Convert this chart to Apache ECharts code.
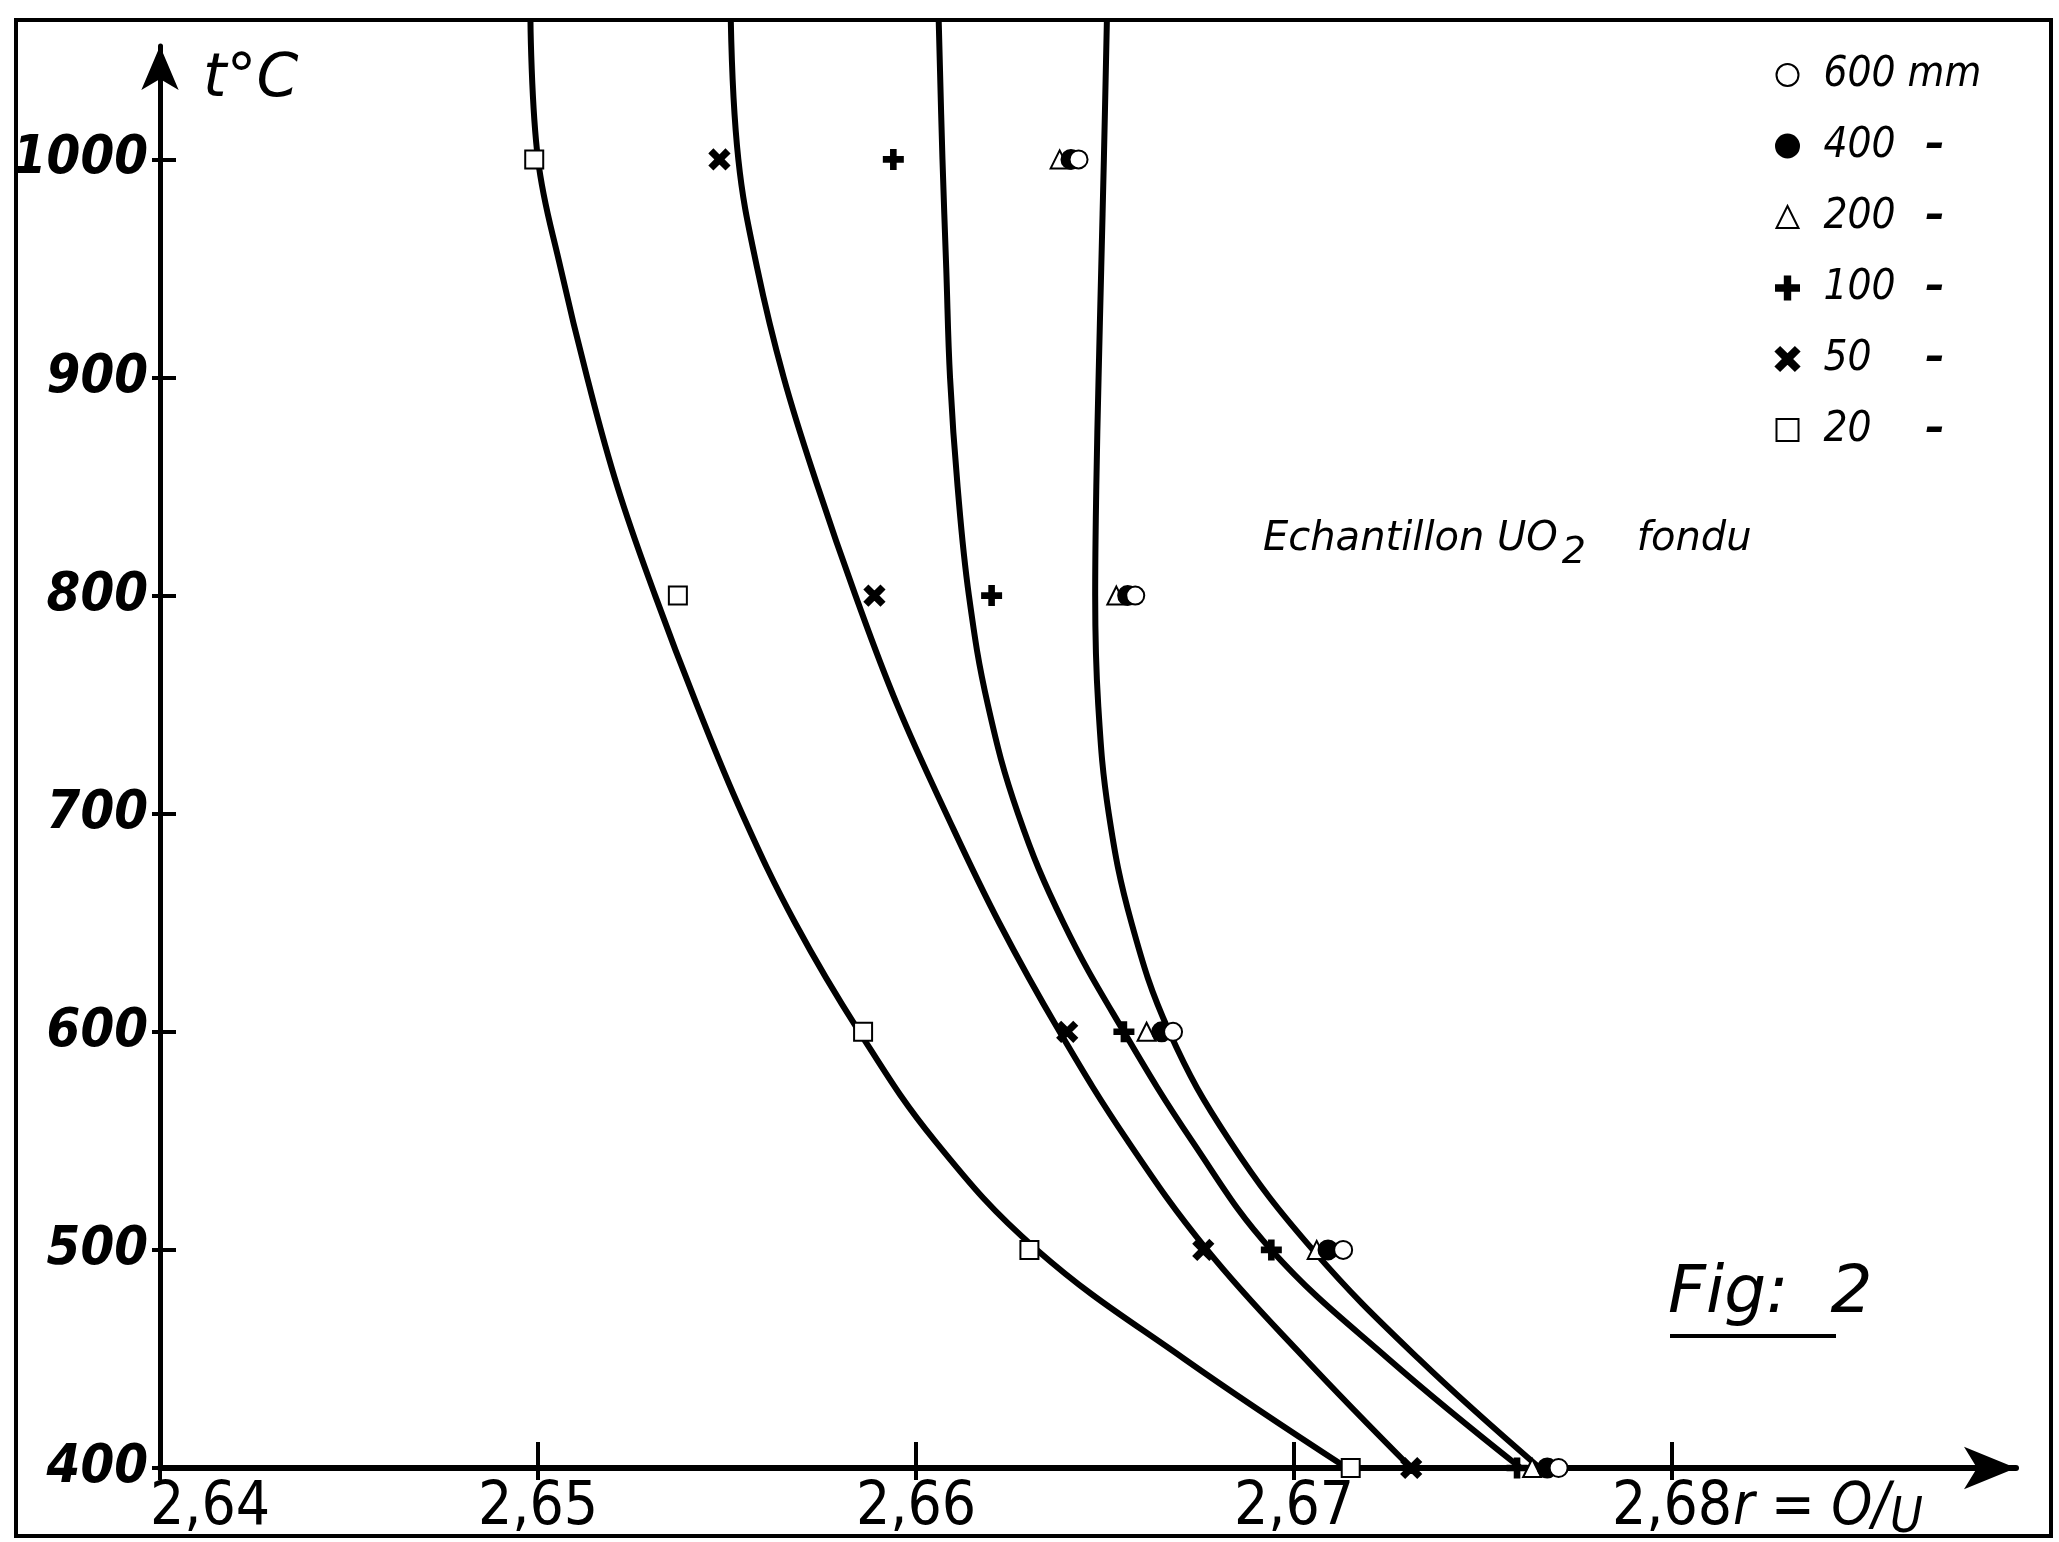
<!DOCTYPE html>
<html><head><meta charset="utf-8">
<script src="https://cdn.jsdelivr.net/npm/echarts@6/dist/echarts.min.js"></script>
<style>html,body{margin:0;padding:0;background:#fff}#c{width:2059px;height:1542px}</style>
</head><body><div id="c"></div>
<script>
// ---- data ----
const tempLevels = [1000, 800, 600, 500, 400];
const r600 = [2.6643, 2.6658, 2.6668, 2.6713, 2.6770];
const r400 = [2.6641, 2.6656, 2.6665, 2.6709, 2.6767];
const r200 = [2.6638, 2.6653, 2.6661, 2.6706, 2.6763];
const r100 = [2.6594, 2.6620, 2.6655, 2.6694, 2.6759];
const r50  = [2.6548, 2.6589, 2.6640, 2.6676, 2.6731];
const r20  = [2.6499, 2.6537, 2.6586, 2.6630, 2.6715];

// drawn curves: temperature levels along each curve and r read at each level
const curveT   = [1064, 1000, 950, 900, 850, 800, 750, 700, 650, 600, 550, 500, 450, 400];
const curve20  = [2.6498, 2.6500, 2.6506, 2.6513, 2.6521, 2.6531, 2.6542, 2.6554, 2.6568, 2.6585, 2.6605, 2.6632, 2.6671, 2.6714];
const curve50  = [2.6551, 2.6553, 2.6558, 2.6565, 2.6574, 2.6584, 2.6595, 2.6608, 2.6622, 2.6638, 2.6656, 2.6677, 2.6703, 2.6731];
const curve100 = [2.6606, 2.6607, 2.6608, 2.6609, 2.6611, 2.6614, 2.6619, 2.6627, 2.6639, 2.6655, 2.6673, 2.6694, 2.6725, 2.6760];
const curveHi  = [2.66505, 2.66497, 2.66490, 2.66483, 2.66477, 2.66474, 2.66482, 2.6651, 2.6657, 2.6667, 2.6683, 2.6705, 2.6733, 2.6765];

const xTicks = [2.64, 2.65, 2.66, 2.67, 2.68];
const yTicks = [400, 500, 600, 700, 800, 900, 1000];
const seriesNames = ['600 mm', '400', '200', '100', '50', '20'];

// ---- chart ----
const X_MIN = 2.64, X_MAX = 2.6891, Y_MIN = 400, Y_MAX = 1052;
const COND = '"DejaVu Sans Condensed", "DejaVu Sans", sans-serif';
const OBL = '"DejaVu Sans", sans-serif';
const PLUS = 'path://M-2,-10H2V-2H10V2H2V10H-2V2H-10V-2H-2Z';
const CROSS = 'path://M-8.5,-5.7L-5.7,-8.5L0,-2.8L5.7,-8.5L8.5,-5.7L2.8,0L8.5,5.7L5.7,8.5L0,2.8L-5.7,8.5L-8.5,5.7L-2.8,0Z';

function pts(xs, ts) { return xs.map((x, i) => [x, ts[i]]); }

const markerDefs = [
  { name: seriesNames[0], symbol: 'emptyCircle', xs: r600 },
  { name: seriesNames[1], symbol: 'circle', xs: r400 },
  { name: seriesNames[2], symbol: 'emptyTriangle', xs: r200 },
  { name: seriesNames[3], symbol: PLUS, xs: r100 },
  { name: seriesNames[4], symbol: CROSS, xs: r50 },
  { name: seriesNames[5], symbol: 'emptyRect', xs: r20 }
];

const curveSeries = [curve20, curve50, curve100, curveHi].map((c, i) => ({
  type: 'line', name: 'curve' + i, data: pts(c, curveT), smooth: 0.4,
  symbol: 'none', clip: false, silent: true, z: 1,
  lineStyle: { color: '#000', width: 6 }
}));

const scatterSeries = markerDefs.slice().reverse().map(d => ({
  type: 'scatter', name: d.name, symbol: d.symbol, symbolSize: 18,
  data: pts(d.xs, tempLevels), z: 3,
  itemStyle: { color: '#000', borderColor: '#000', borderWidth: 3, opacity: 1 }
}));

const labelFont = { color: '#000', fontFamily: COND, fontSize: 60, fontWeight: 'normal' };

const chart = echarts.init(document.getElementById('c'), null, { renderer: 'canvas' });
chart.setOption({
  animation: false,
  backgroundColor: '#fff',
  grid: { left: 160, right: 43, top: 46, bottom: 1542 - 1468, containLabel: false, outerBoundsMode: 'none' },
  xAxis: [{
    type: 'value', min: X_MIN, max: X_MAX, position: 'bottom',
    axisLine: { onZero: false, lineStyle: { color: '#000', width: 6 }, symbol: ['none', 'arrow'], symbolSize: [32, 52] },
    axisTick: { show: true, inside: true, length: 26, lineStyle: { color: '#000', width: 4 }, customValues: xTicks },
    axisLabel: Object.assign({
      customValues: xTicks, margin: 10,
      formatter: v => {
        const s = v.toFixed(2).replace('.', ',');
        return Math.abs(v - X_MIN) < 1e-9 ? '{f|' + s + '}' : s;
      },
      rich: { f: Object.assign({ padding: [0, 0, 0, 100] }, labelFont) }
    }, labelFont),
    splitLine: { show: false }
  }, {
    type: 'value', min: X_MIN, max: X_MAX, position: 'bottom',
    axisLine: { show: false, onZero: false },
    axisTick: { show: true, inside: false, length: 12, lineStyle: { color: '#000', width: 4 }, customValues: xTicks },
    axisLabel: { show: false }, splitLine: { show: false }
  }],
  yAxis: [{
    type: 'value', min: Y_MIN, max: Y_MAX, position: 'left',
    axisLine: { onZero: false, lineStyle: { color: '#000', width: 5 }, symbol: ['none', 'arrow'], symbolSize: [28, 44] },
    axisTick: { show: true, inside: true, length: 16, lineStyle: { color: '#000', width: 4 }, customValues: yTicks },
    axisLabel: { customValues: yTicks, margin: 12, color: '#000', fontFamily: COND, fontSize: 54, fontWeight: 'bold', fontStyle: 'italic',
      formatter: v => String(v) },
    splitLine: { show: false }
  }, {
    type: 'value', min: Y_MIN, max: Y_MAX, position: 'left',
    axisLine: { show: false, onZero: false },
    axisTick: { show: true, inside: false, length: 8, lineStyle: { color: '#000', width: 4 }, customValues: yTicks },
    axisLabel: { show: false }, splitLine: { show: false }
  }],
  legend: {
    data: seriesNames, orient: 'vertical', left: 1770, top: 48,
    itemWidth: 22, itemHeight: 22, itemGap: 27,
    selectedMode: false,
    textStyle: {
      color: '#000', fontFamily: COND, fontStyle: 'italic', fontSize: 42, lineHeight: 44,
      rich: {
        t: { color: '#000', fontFamily: COND, fontStyle: 'italic', fontSize: 42, lineHeight: 44, width: 102, padding: [0, 0, 0, 20] },
        d: { color: '#000', fontFamily: COND, fontSize: 42, lineHeight: 44, fontWeight: 'bold' }
      }
    },
    formatter: n => n === '600 mm' ? '{t|600 mm}' : '{t|' + n + '}{d|–}',
    itemStyle: { borderWidth: 3, opacity: 1 }
  },
  series: curveSeries.concat(scatterSeries),
  graphic: [
    { type: 'rect', silent: true, shape: { x: 16, y: 20, width: 2035, height: 1516 },
      style: { fill: 'none', stroke: '#000', lineWidth: 4 }, z: 0 },
    { type: 'text', left: 203, top: 50, silent: true,
      style: { text: 't°C', fill: '#000', font: 'italic 60px ' + OBL } },
    { type: 'text', left: 1733, top: 1480, silent: true,
      style: { text: '{a|r = O/}{b|U}', fill: '#000',
        rich: { a: { fontFamily: COND, fontSize: 58, fontStyle: 'italic', fill: '#000' },
                b: { fontFamily: COND, fontSize: 50, fontStyle: 'italic', fill: '#000', padding: [20, 0, 0, 0] } } } },
    { type: 'text', left: 1263, top: 520, silent: true,
      style: { text: '{a|Echantillon UO}{s|2}{a|    fondu}', fill: '#000',
        rich: { a: { fontFamily: OBL, fontStyle: 'italic', fontSize: 40, fill: '#000' },
                s: { fontFamily: OBL, fontStyle: 'italic', fontSize: 38, fill: '#000', padding: [26, 0, 0, 4] } } } },
    { type: 'text', left: 1668, top: 1262, silent: true,
      style: { text: 'Fig:  2', fill: '#000', font: 'italic 66px ' + OBL } },
    { type: 'line', silent: true, shape: { x1: 1670, y1: 1336, x2: 1836, y2: 1336 },
      style: { stroke: '#000', lineWidth: 4 } }
  ]
});
</script>
</body></html>
